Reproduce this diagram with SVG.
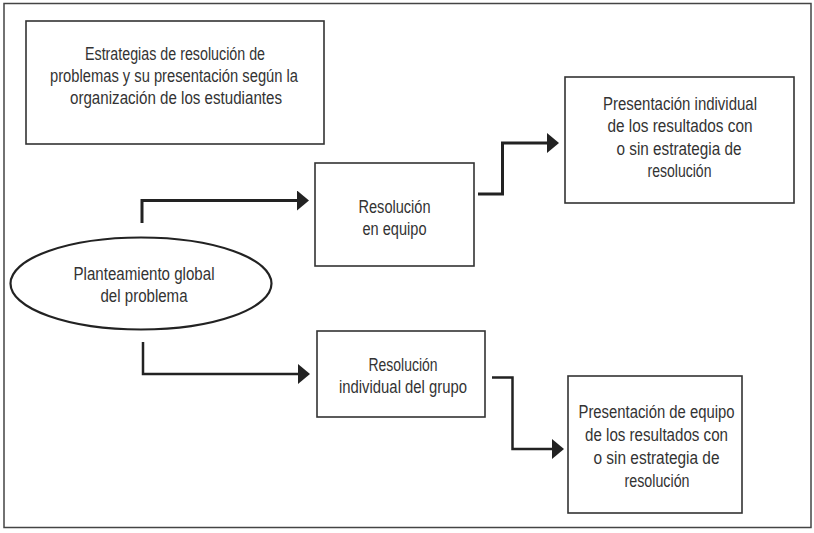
<svg xmlns="http://www.w3.org/2000/svg" width="814" height="533" viewBox="0 0 814 533">
<defs>
<style>
.box{fill:#fff;stroke:#333;stroke-width:1.6}
.frame{fill:#fff;stroke:#444;stroke-width:1.5}
.t{font-family:"Liberation Sans",Arial,sans-serif;font-size:17.5px;fill:#333;text-anchor:middle}
.c{fill:none;stroke:#222;stroke-linejoin:miter}
.thick{stroke-width:3}
.thin{stroke-width:2.5}
</style>
<marker id="ah" viewBox="0 0 12 20" refX="0" refY="10" markerWidth="12" markerHeight="20" markerUnits="userSpaceOnUse" orient="auto">
<path d="M0,0 L12,10 L0,20 Z" fill="#222"/>
</marker>
</defs>
<rect class="frame" x="4" y="3.5" width="807" height="524"/>
<g id="title">
<rect class="box" x="26" y="21" width="298" height="123"/>
<text class="t" x="175" y="60" textLength="180" lengthAdjust="spacingAndGlyphs">Estrategias de resolución de</text>
<text class="t" x="174" y="82" textLength="248" lengthAdjust="spacingAndGlyphs">problemas y su presentación según la</text>
<text class="t" x="176" y="104" textLength="212" lengthAdjust="spacingAndGlyphs">organización de los estudiantes</text>
</g>
<g id="planteamiento">
<ellipse cx="141" cy="283.5" rx="130.5" ry="46" fill="#fff" stroke="#222" stroke-width="2.2"/>
<text class="t" x="144" y="280" textLength="141" lengthAdjust="spacingAndGlyphs">Planteamiento global</text>
<text class="t" x="144" y="302" textLength="87" lengthAdjust="spacingAndGlyphs">del problema</text>
</g>
<g id="res-equipo">
<rect class="box" x="315" y="163" width="159" height="103"/>
<text class="t" x="394.5" y="212.5" textLength="72" lengthAdjust="spacingAndGlyphs">Resolución</text>
<text class="t" x="394.5" y="235" textLength="64" lengthAdjust="spacingAndGlyphs">en equipo</text>
</g>
<g id="pres-individual">
<rect class="box" x="565" y="77" width="229" height="126"/>
<text class="t" x="680" y="109.5" textLength="154" lengthAdjust="spacingAndGlyphs">Presentación individual</text>
<text class="t" x="680" y="132" textLength="145" lengthAdjust="spacingAndGlyphs">de los resultados con</text>
<text class="t" x="679" y="154.5" textLength="125" lengthAdjust="spacingAndGlyphs">o sin estrategia de</text>
<text class="t" x="679.5" y="177" textLength="64" lengthAdjust="spacingAndGlyphs">resolución</text>
</g>
<g id="res-individual">
<rect class="box" x="317" y="331" width="168" height="86"/>
<text class="t" x="403" y="370.5" textLength="69" lengthAdjust="spacingAndGlyphs">Resolución</text>
<text class="t" x="403" y="393" textLength="128" lengthAdjust="spacingAndGlyphs">individual del grupo</text>
</g>
<g id="pres-equipo">
<rect class="box" x="568" y="376" width="174" height="137"/>
<text class="t" x="656.5" y="418" textLength="156" lengthAdjust="spacingAndGlyphs">Presentación de equipo</text>
<text class="t" x="656.5" y="441" textLength="143" lengthAdjust="spacingAndGlyphs">de los resultados con</text>
<text class="t" x="656.5" y="464" textLength="126" lengthAdjust="spacingAndGlyphs">o sin estrategia de</text>
<text class="t" x="657" y="487" textLength="65" lengthAdjust="spacingAndGlyphs">resolución</text>
</g>
<g id="connectors">
<path class="c thick" d="M142,223 V200.5 H297" marker-end="url(#ah)"/>
<path class="c thick" d="M478,194 H502.5 V143 H547" marker-end="url(#ah)"/>
<path class="c thin" d="M143,342 V374 H298" marker-end="url(#ah)"/>
<path class="c thin" d="M492,377.5 H512.5 V449 H552" marker-end="url(#ah)"/>
</g>
</svg>
